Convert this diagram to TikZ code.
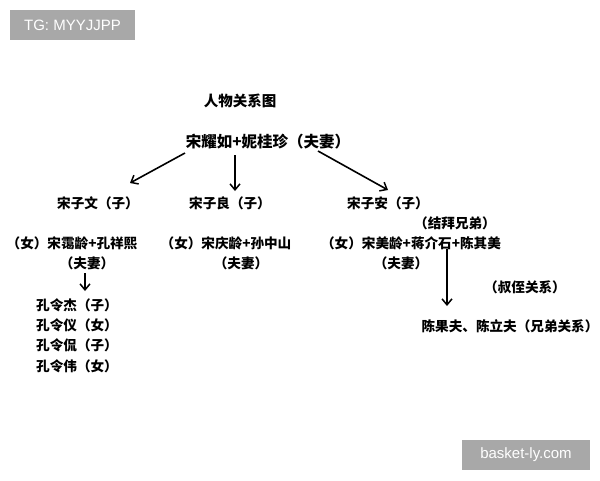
\documentclass[tikz,border=0pt]{standalone}
\usepackage{fontspec}
\setmainfont{Noto Sans CJK SC}
\newfontfamily\wmfont{Liberation Sans}
\usetikzlibrary{arrows.meta}
\definecolor{wmgray}{HTML}{A8A8A8}
\tikzset{
  lbl/.style={inner sep=0pt, font=\fontsize{13.6}{15}\selectfont\bfseries},
  big/.style={inner sep=0pt, font=\fontsize{15.5}{17}\selectfont\bfseries},
  arr/.style={line width=1.6pt, -{Straight Barb[length=6pt,width=10pt,line width=1.5pt]}},
  wm/.style={fill=wmgray, text=white, inner sep=0pt, font=\wmfont\fontsize{15}{17}\selectfont, minimum height=30pt}
}
\begin{document}
\begin{tikzpicture}[x=1pt,y=-1pt]
\useasboundingbox (0,0) rectangle (600,480);
\fill[white] (0,0) rectangle (600,480);
% watermarks
\node[wm, minimum width=125pt] (tg) at (72.5,25) {TG: MYYJJPP};
\node[wm, minimum width=128pt] (bl) at (526,455) {basket-ly.com};
% title
\node[lbl, font=\fontsize{14.5}{16}\selectfont\bfseries] (title) at (240,101) {人物关系图};
% parents
\node[big] (par) at (268,142) {宋耀如+妮桂珍（夫妻）};
% children
\node[lbl] (zw) at (98,203) {宋子文（子）};
\node[lbl] (zl) at (230,203) {宋子良（子）};
\node[lbl] (za) at (388,203) {宋子安（子）};
\node[lbl] (jb) at (455,223) {（结拜兄弟）};
% daughters
\node[lbl] (al) at (72,243) {（女）宋霭龄+孔祥熙};
\node[lbl] (alf) at (87,263) {（夫妻）};
\node[lbl] (ql) at (226,243) {（女）宋庆龄+孙中山};
\node[lbl] (qlf) at (241,263) {（夫妻）};
\node[lbl] (ml) at (411,243) {（女）宋美龄+蒋介石+陈其美};
\node[lbl] (mlf) at (401,263) {（夫妻）};
\node[lbl] (sz) at (525,287) {（叔侄关系）};
\node[lbl] (cc) at (510,326) {陈果夫、陈立夫（兄弟关系）};
% Kong children
\node[lbl] (k1) at (77,305) {孔令杰（子）};
\node[lbl] (k2) at (77,325) {孔令仪（女）};
\node[lbl] (k3) at (77,345) {孔令侃（子）};
\node[lbl] (k4) at (77,366) {孔令伟（女）};
% arrow anchors
\coordinate (a1s) at (185,153);
\coordinate (a1e) at (130,183);
\coordinate (a2s) at (235,155);
\coordinate (a2e) at (235,191);
\coordinate (a3s) at (318,151);
\coordinate (a3e) at (388,190);
\coordinate (a4s) at (85,273);
\coordinate (a4e) at (85,291);
\coordinate (a5s) at (447,249);
\coordinate (a5e) at (447,306);
\draw[arr] (a1s) -- (a1e);
\draw[arr] (a2s) -- (a2e);
\draw[arr] (a3s) -- (a3e);
\draw[arr] (a4s) -- (a4e);
\draw[arr] (a5s) -- (a5e);
\end{tikzpicture}
\end{document}
